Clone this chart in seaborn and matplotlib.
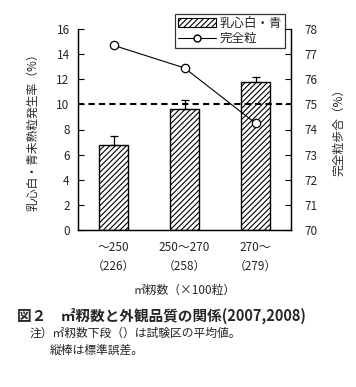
import matplotlib
matplotlib.use("Agg")
import matplotlib.pyplot as plt
import seaborn as sns
import pandas as pd
from matplotlib.patches import Patch
from matplotlib.lines import Line2D

sns.set_theme(style="white")
plt.rcParams['font.family'] = ['Noto Sans CJK JP', 'DejaVu Sans']
plt.rcParams['hatch.linewidth'] = 0.8

categories = ["～250\n（226）", "250～270\n（258）", "270～\n（279）"]
chalky = [6.8, 9.6, 11.8]
chalky_se = [0.7, 0.75, 0.35]
perfect = [77.35, 76.45, 74.25]

df = pd.DataFrame({"cat": categories, "chalky": chalky, "perfect": perfect})

fig = plt.figure(figsize=(3.56, 3.87), dpi=100)
ax = fig.add_axes([78/356, 1-230/387, 213/356, 201/387])

sns.barplot(data=df, x="cat", y="chalky", ax=ax, color="white", edgecolor="black",
            linewidth=1.0, width=0.42, errorbar=None, zorder=2)
for p in ax.patches:
    p.set_hatch("//////")
ax.errorbar(range(len(categories)), chalky, yerr=[[0]*3, chalky_se], fmt="none",
            ecolor="black", elinewidth=0.9, capsize=3, capthick=0.9, zorder=3)
ax.axhline(10, color="black", linestyle=(0, (3, 2)), linewidth=1.5, zorder=4)

ax.set_ylim(0, 16)
ax.set_yticks(range(0, 17, 2))
ax.set_xlim(-0.5, 2.5)
ax.set_xticks([0, 1, 2])
ax.set_xticklabels(categories, fontsize=8.5, linespacing=1.6)
ax.set_xticks([0.5, 1.5], minor=True)
ax.tick_params(axis="x", which="major", length=0, pad=8)
ax.tick_params(axis="x", which="minor", direction="in", length=3, color="black", width=0.8)
ax.tick_params(axis="y", direction="in", length=4, color="black", width=0.8, labelsize=8.5, pad=6)
ax.set_xlabel("㎡籾数（×100粒）", fontsize=8.5, labelpad=8)
ax.set_ylabel("乳心白・青未熟粒発生率（%）", fontsize=8.5, labelpad=12)
for s in ["left", "right", "bottom"]:
    ax.spines[s].set_color("black")
    ax.spines[s].set_linewidth(0.9)
ax.spines["top"].set_visible(False)

ax2 = ax.twinx()
sns.lineplot(data=df, x="cat", y="perfect", ax=ax2, color="black", linewidth=0.8,
             marker="o", markersize=6, markerfacecolor="white", markeredgecolor="black",
             markeredgewidth=0.9, zorder=5)
ax2.set_ylim(70, 78)
ax2.set_yticks(range(70, 79))
ax2.tick_params(axis="y", direction="in", length=4, color="black", width=0.8, labelsize=8.5, pad=10)
ax2.set_ylabel("完全粒歩合（%）", fontsize=8.5, labelpad=10)
ax2.spines["top"].set_visible(False)
for s in ["left", "right", "bottom"]:
    ax2.spines[s].set_color("black")
    ax2.spines[s].set_linewidth(0.9)
ax2.set_xlabel("")

handles = [Patch(facecolor="white", edgecolor="black", hatch="//////", linewidth=0.8),
           Line2D([0], [0], color="black", linewidth=0.8, marker="o", markersize=5,
                  markerfacecolor="white", markeredgecolor="black")]
leg = fig.legend(handles, ["乳心白・青", "完全粒"], loc="upper left",
                 bbox_to_anchor=(175/356, 1-14/387), fontsize=9, frameon=True,
                 fancybox=False, edgecolor="black", borderpad=0.25, labelspacing=0.15,
                 handlelength=3.0, handletextpad=0.3, borderaxespad=0)
leg.get_frame().set_linewidth(0.9)

fig.text(17/356, 1-316/387, "図２　㎡籾数と外観品質の関係(2007,2008)", fontsize=10.5,
         fontweight="bold", va="center", ha="left")
fig.text(30/356, 1-333/387, "注）㎡籾数下段（）は試験区の平均値。", fontsize=8.5, va="center", ha="left")
fig.text(50/356, 1-350/387, "縦棒は標準誤差。", fontsize=8.5, va="center", ha="left")

fig.savefig("out.png", dpi=100, facecolor="white")
